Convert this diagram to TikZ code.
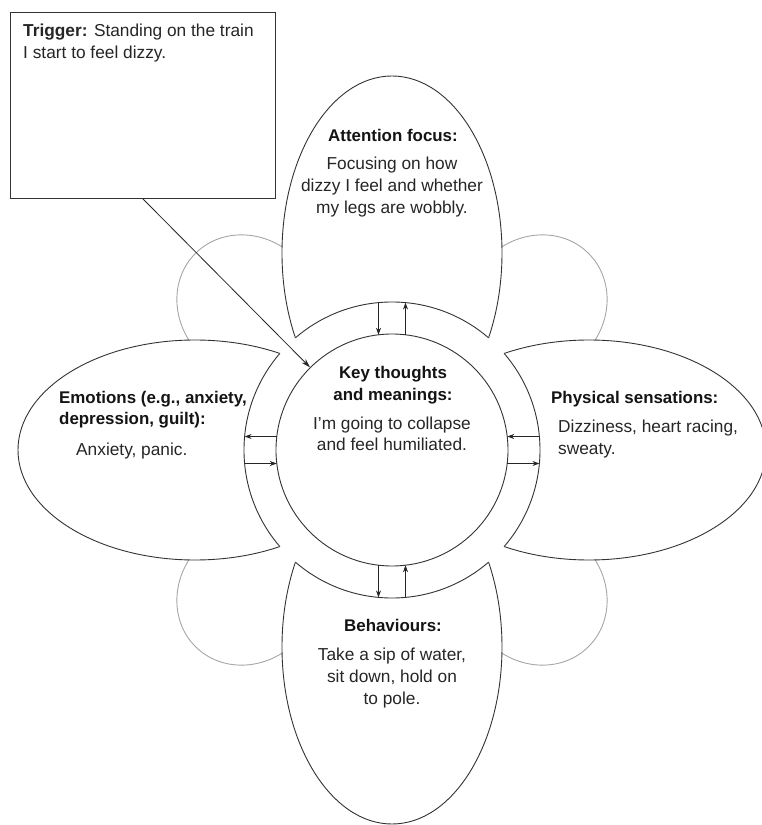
\documentclass[tikz,border=0pt]{standalone}
\usepackage{fontspec}
\setmainfont{Liberation Sans}
\usetikzlibrary{arrows.meta}
\begin{document}
\begin{tikzpicture}[x=1pt,y=1pt,
  petal/.style={draw=black!80, line width=0.9pt, fill=white},
  backpetal/.style={draw=black!35, line width=0.9pt},
  ringarc/.style={draw=black!80, line width=0.9pt},
  flow/.style={draw=black!85, line width=0.8pt, -{Stealth[length=7pt,width=5pt]}},
  label/.style={font=\fontsize{17.3}{21.7}\selectfont, text=black!85, inner sep=0pt},
  head/.style={inner sep=0pt, text=black!92, font=\bfseries\fontsize{16.9}{21.7}\selectfont},
]
\useasboundingbox (-392,-375) rectangle (370,450);

% light petals on the diagonals, behind everything else
\foreach \a in {45,135,225,315}
  \draw[backpetal, rotate=\a] (0,203) ellipse [x radius=68, y radius=75];

% the four main petals
\path[petal] (0,197)  ellipse [x radius=110, y radius=177];
\path[petal] (0,-197) ellipse [x radius=110, y radius=177];
\path[petal] (-197,0) ellipse [x radius=177, y radius=110];
\path[petal] (197,0)  ellipse [x radius=177, y radius=110];

% clear the ring around the centre, then draw its arc inside each petal
\fill[white] (0,0) circle [radius=148];
\begin{scope}
  \clip (0,197) ellipse [x radius=110, y radius=177];
  \draw[ringarc] (0,0) circle [radius=148];
\end{scope}
\begin{scope}
  \clip (0,-197) ellipse [x radius=110, y radius=177];
  \draw[ringarc] (0,0) circle [radius=148];
\end{scope}
\begin{scope}
  \clip (-197,0) ellipse [x radius=177, y radius=110];
  \draw[ringarc] (0,0) circle [radius=148];
\end{scope}
\begin{scope}
  \clip (197,0) ellipse [x radius=177, y radius=110];
  \draw[ringarc] (0,0) circle [radius=148];
\end{scope}

% central circle
\node[circle, draw=black!80, line width=0.9pt, minimum size=232pt, inner sep=0pt] (key) at (0,0) {};

% arrows across the ring
\def\ri{115.2}\def\ro{147.4}\def\d{13.5}
\coordinate (t1o) at (-\d,\ro);  \coordinate (t1i) at (-\d,\ri);
\coordinate (t2o) at (\d,\ro);   \coordinate (t2i) at (\d,\ri);
\coordinate (b1o) at (-\d,-\ro); \coordinate (b1i) at (-\d,-\ri);
\coordinate (b2o) at (\d,-\ro);  \coordinate (b2i) at (\d,-\ri);
\coordinate (l1o) at (-\ro,\d);  \coordinate (l1i) at (-\ri,\d);
\coordinate (l2o) at (-\ro,-\d); \coordinate (l2i) at (-\ri,-\d);
\coordinate (r1o) at (\ro,\d);   \coordinate (r1i) at (\ri,\d);
\coordinate (r2o) at (\ro,-\d);  \coordinate (r2i) at (\ri,-\d);
\draw[flow] (t1o) -- (t1i);
\draw[flow] (t2i) -- (t2o);
\draw[flow] (b1i) -- (b1o);
\draw[flow] (b2o) -- (b2i);
\draw[flow] (l1i) -- (l1o);
\draw[flow] (l2o) -- (l2i);
\draw[flow] (r1o) -- (r1i);
\draw[flow] (r2i) -- (r2o);

% trigger box and its arrow
\node[draw=black!80, line width=0.9pt, fill=white, minimum width=265pt, minimum height=186pt,
      inner sep=0pt, anchor=north west] (trigger) at (-382,438) {};
\node[label, anchor=base west, align=left] (triggertext) at (-369,391.3)
  {\textbf{Trigger:} Standing on the train\\I start to feel dizzy.};
\draw[flow, -{Stealth[length=9pt,width=5.5pt]}] (trigger.south) -- (key);

% texts (a multi-line node sits on the baseline of its last line)
\node[head, anchor=base] (focushead) at (1,308.3) {Attention focus:};
\node[label, anchor=base, align=center] (focusbody) at (0,236.6)
  {Focusing on how\\dizzy I feel and whether\\my legs are wobbly.};
\node[head, anchor=base, align=center] (keyhead) at (1,49.5) {Key thoughts\\and meanings:};
\node[label, anchor=base, align=center] (keybody) at (0,-0.7)
  {I'm going to collapse\\and feel humiliated.};
\node[head, anchor=base west, align=left] (emohead) at (-333,25.3)
  {Emotions (e.g., anxiety,\\depression, guilt):};
\node[label, anchor=base west] (emobody) at (-316,-5) {Anxiety, panic.};
\node[head, anchor=base west] (physhead) at (159,47) {Physical sensations:};
\node[label, anchor=base west, align=left] (physbody) at (166,-4)
  {Dizziness, heart racing,\\sweaty.};
\node[head, anchor=base] (behhead) at (1,-181.7) {Behaviours:};
\node[label, anchor=base, align=center] (behbody) at (0,-254.1)
  {Take a sip of water,\\sit down, hold on\\to pole.};
\end{tikzpicture}
\end{document}
